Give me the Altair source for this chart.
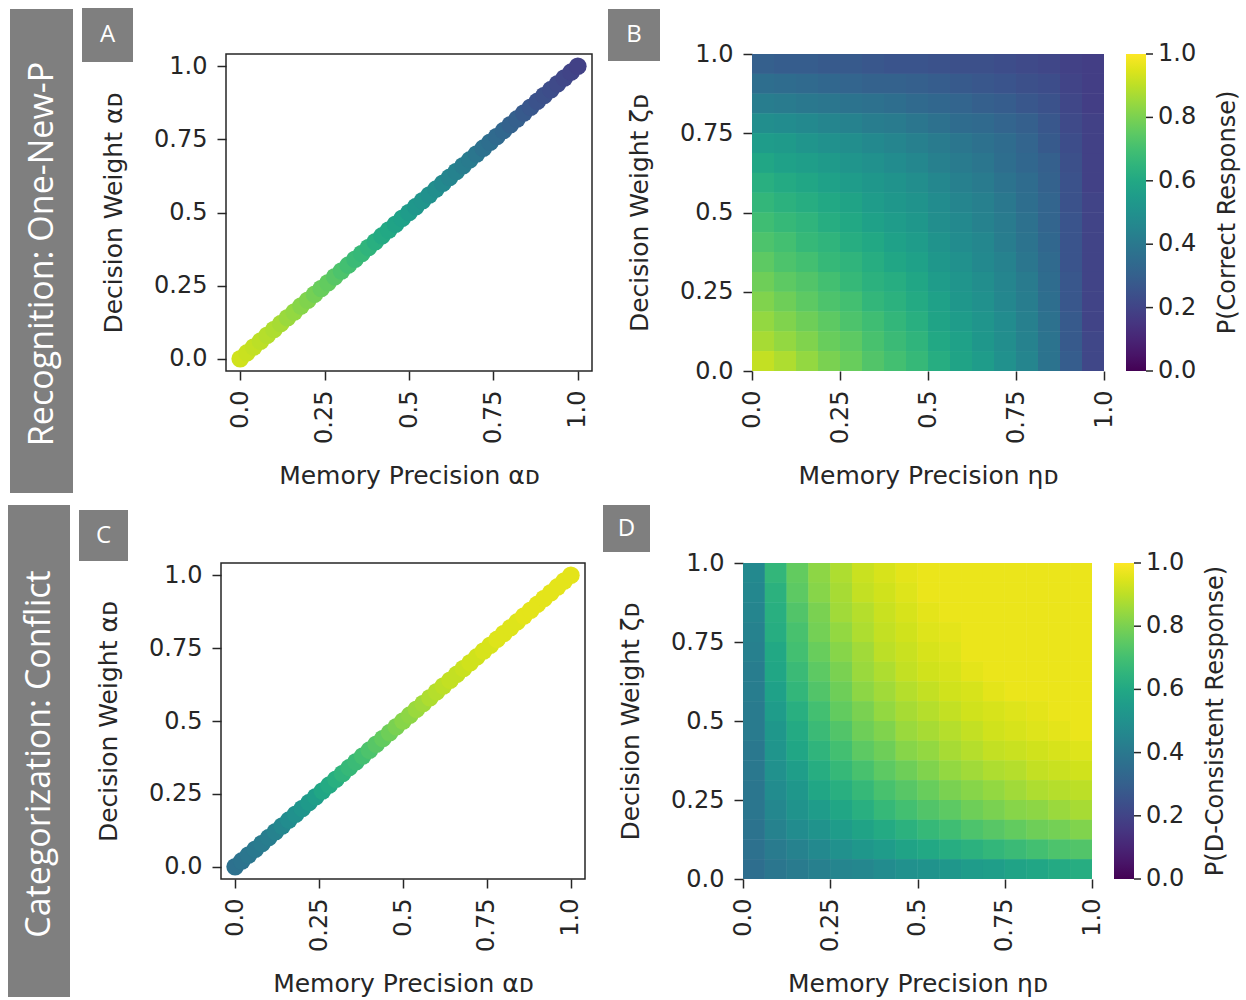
import altair as alt
import pandas as pd

# ------------------------------------------------------------------ data
line_x = [0.00, 0.02, 0.04, 0.06, 0.08, 0.10, 0.12, 0.14, 0.16, 0.18,
          0.20, 0.22, 0.24, 0.26, 0.28, 0.30, 0.32, 0.34, 0.36, 0.38,
          0.40, 0.42, 0.44, 0.46, 0.48, 0.50, 0.52, 0.54, 0.56, 0.58,
          0.60, 0.62, 0.64, 0.66, 0.68, 0.70, 0.72, 0.74, 0.76, 0.78,
          0.80, 0.82, 0.84, 0.86, 0.88, 0.90, 0.92, 0.94, 0.96, 0.98, 1.00]

# colour of the diagonal in panel A (P correct) and panel C (P D-consistent)
recog_line_p = [0.93, 0.92, 0.91, 0.90, 0.89, 0.88, 0.87, 0.85, 0.84, 0.82,
                0.81, 0.79, 0.77, 0.76, 0.74, 0.72, 0.70, 0.68, 0.67, 0.65,
                0.63, 0.61, 0.60, 0.58, 0.57, 0.55, 0.53, 0.52, 0.50, 0.49,
                0.47, 0.45, 0.44, 0.42, 0.41, 0.39, 0.37, 0.36, 0.34, 0.33,
                0.31, 0.30, 0.28, 0.27, 0.25, 0.24, 0.23, 0.22, 0.21, 0.20, 0.19]
categ_line_p = [0.37, 0.38, 0.39, 0.40, 0.41, 0.42, 0.44, 0.46, 0.48, 0.50,
                0.52, 0.54, 0.56, 0.59, 0.61, 0.63, 0.65, 0.67, 0.68, 0.70,
                0.72, 0.74, 0.76, 0.78, 0.80, 0.82, 0.83, 0.85, 0.86, 0.88,
                0.89, 0.90, 0.91, 0.91, 0.92, 0.93, 0.93, 0.94, 0.94, 0.95,
                0.95, 0.95, 0.95, 0.96, 0.96, 0.96, 0.96, 0.96, 0.96, 0.96, 0.96]

grid_edges = [0.0, 0.0625, 0.125, 0.1875, 0.25, 0.3125, 0.375, 0.4375, 0.5,
              0.5625, 0.625, 0.6875, 0.75, 0.8125, 0.875, 0.9375, 1.0]

# panel B, rows from zeta = 1 (top) down to zeta = 0 (bottom), columns eta 0 -> 1
recog_grid = [
    [0.30, 0.29, 0.29, 0.28, 0.28, 0.27, 0.26, 0.26, 0.25, 0.24, 0.24, 0.23, 0.22, 0.21, 0.19, 0.18],
    [0.36, 0.35, 0.34, 0.33, 0.32, 0.31, 0.31, 0.30, 0.29, 0.28, 0.27, 0.26, 0.24, 0.23, 0.20, 0.18],
    [0.42, 0.41, 0.40, 0.39, 0.38, 0.37, 0.36, 0.34, 0.33, 0.32, 0.30, 0.29, 0.27, 0.25, 0.21, 0.18],
    [0.49, 0.48, 0.47, 0.45, 0.44, 0.42, 0.41, 0.39, 0.37, 0.35, 0.34, 0.32, 0.30, 0.27, 0.22, 0.19],
    [0.55, 0.54, 0.52, 0.50, 0.49, 0.47, 0.45, 0.43, 0.41, 0.39, 0.37, 0.35, 0.32, 0.28, 0.23, 0.19],
    [0.59, 0.57, 0.56, 0.54, 0.52, 0.50, 0.48, 0.46, 0.43, 0.41, 0.39, 0.36, 0.33, 0.30, 0.24, 0.19],
    [0.63, 0.61, 0.59, 0.57, 0.55, 0.53, 0.51, 0.49, 0.46, 0.43, 0.41, 0.38, 0.35, 0.31, 0.25, 0.19],
    [0.66, 0.64, 0.62, 0.60, 0.58, 0.55, 0.53, 0.51, 0.48, 0.45, 0.43, 0.40, 0.36, 0.32, 0.25, 0.20],
    [0.69, 0.67, 0.65, 0.62, 0.60, 0.57, 0.55, 0.53, 0.49, 0.47, 0.44, 0.41, 0.37, 0.32, 0.26, 0.20],
    [0.72, 0.70, 0.67, 0.65, 0.62, 0.60, 0.57, 0.55, 0.51, 0.48, 0.46, 0.42, 0.38, 0.33, 0.26, 0.20],
    [0.75, 0.72, 0.70, 0.67, 0.65, 0.62, 0.59, 0.57, 0.53, 0.50, 0.47, 0.44, 0.39, 0.34, 0.26, 0.20],
    [0.78, 0.75, 0.73, 0.70, 0.67, 0.64, 0.62, 0.59, 0.55, 0.52, 0.49, 0.45, 0.41, 0.35, 0.27, 0.20],
    [0.81, 0.78, 0.75, 0.72, 0.70, 0.66, 0.64, 0.61, 0.57, 0.53, 0.50, 0.46, 0.42, 0.36, 0.27, 0.20],
    [0.84, 0.81, 0.78, 0.75, 0.72, 0.69, 0.66, 0.63, 0.58, 0.55, 0.52, 0.48, 0.43, 0.37, 0.28, 0.20],
    [0.87, 0.84, 0.81, 0.77, 0.75, 0.71, 0.68, 0.65, 0.60, 0.57, 0.53, 0.49, 0.44, 0.38, 0.28, 0.21],
    [0.91, 0.88, 0.84, 0.80, 0.77, 0.73, 0.70, 0.67, 0.62, 0.58, 0.55, 0.50, 0.45, 0.38, 0.29, 0.21],
]

# panel D, same layout
categ_grid = [
    [0.47, 0.66, 0.76, 0.83, 0.88, 0.92, 0.94, 0.96, 0.97, 0.97, 0.97, 0.97, 0.97, 0.97, 0.97, 0.97],
    [0.46, 0.64, 0.75, 0.82, 0.87, 0.91, 0.93, 0.95, 0.97, 0.97, 0.97, 0.97, 0.97, 0.97, 0.97, 0.97],
    [0.45, 0.63, 0.73, 0.80, 0.86, 0.89, 0.92, 0.94, 0.96, 0.97, 0.97, 0.97, 0.97, 0.97, 0.97, 0.97],
    [0.44, 0.62, 0.71, 0.79, 0.84, 0.88, 0.91, 0.93, 0.95, 0.96, 0.97, 0.97, 0.97, 0.97, 0.97, 0.97],
    [0.43, 0.60, 0.70, 0.77, 0.82, 0.86, 0.90, 0.92, 0.94, 0.95, 0.97, 0.97, 0.97, 0.97, 0.97, 0.97],
    [0.42, 0.59, 0.68, 0.75, 0.80, 0.85, 0.88, 0.91, 0.93, 0.94, 0.96, 0.97, 0.97, 0.97, 0.97, 0.97],
    [0.42, 0.57, 0.66, 0.73, 0.78, 0.83, 0.86, 0.89, 0.91, 0.93, 0.94, 0.96, 0.97, 0.97, 0.97, 0.97],
    [0.41, 0.55, 0.63, 0.70, 0.76, 0.80, 0.84, 0.87, 0.89, 0.91, 0.93, 0.94, 0.95, 0.96, 0.97, 0.97],
    [0.41, 0.53, 0.61, 0.68, 0.73, 0.78, 0.81, 0.85, 0.87, 0.89, 0.91, 0.93, 0.94, 0.95, 0.96, 0.97],
    [0.40, 0.52, 0.59, 0.65, 0.70, 0.75, 0.78, 0.82, 0.84, 0.87, 0.89, 0.91, 0.92, 0.93, 0.94, 0.95],
    [0.40, 0.50, 0.56, 0.62, 0.67, 0.71, 0.75, 0.78, 0.81, 0.84, 0.86, 0.88, 0.89, 0.91, 0.92, 0.93],
    [0.39, 0.48, 0.53, 0.59, 0.63, 0.67, 0.71, 0.74, 0.77, 0.80, 0.82, 0.84, 0.86, 0.88, 0.89, 0.90],
    [0.39, 0.46, 0.51, 0.55, 0.59, 0.63, 0.67, 0.70, 0.73, 0.75, 0.78, 0.80, 0.82, 0.83, 0.85, 0.87],
    [0.38, 0.44, 0.48, 0.51, 0.55, 0.58, 0.61, 0.64, 0.67, 0.69, 0.72, 0.74, 0.76, 0.78, 0.79, 0.81],
    [0.37, 0.41, 0.44, 0.47, 0.50, 0.53, 0.55, 0.58, 0.60, 0.62, 0.64, 0.66, 0.68, 0.70, 0.72, 0.73],
    [0.36, 0.39, 0.41, 0.43, 0.45, 0.46, 0.48, 0.50, 0.51, 0.53, 0.55, 0.56, 0.58, 0.59, 0.61, 0.62],
]

axis_ticks = [0.0, 0.25, 0.5, 0.75, 1.0]
cbar_ticks = [0.0, 0.2, 0.4, 0.6, 0.8, 1.0]
row_labels = ["Recognition: One-New-P", "Categorization: Conflict"]
panel_letters = ["A", "B", "C", "D"]
cbar_titles = ["P(Correct Response)", "P(D-Consistent Response)"]
x_titles = ["Memory Precision αᴅ", "Memory Precision ηᴅ"]
y_titles = ["Decision Weight αᴅ", "Decision Weight ζᴅ"]

# ------------------------------------------------------------------ style
FONT = "DejaVu Sans"
LFONT = "Open Sans"
GREY = "#7f7f7f"
INK = "#262626"
TICK_FS = 24
TITLE_FS = 25
LEG_OFFSET = 22
LEG_THICK = 20

LABEL_EXPR = "datum.value == 0 ? '0.0' : (datum.value == 1 ? '1.0' : '' + datum.value)"


def make_axis(title, kind):
    common = dict(values=axis_ticks, labelExpr=LABEL_EXPR, grid=False, domain=False,
                  ticks=True, tickSize=9, tickWidth=1.5, tickColor=INK,
                  labelFont=FONT, labelFontSize=TICK_FS, labelColor=INK, labelPadding=10,
                  title=title, titleFont=FONT, titleFontSize=TITLE_FS,
                  titleFontWeight="normal", titleColor=INK)
    if kind == "x":
        return alt.Axis(labelAngle=270, titlePadding=20, **common)
    return alt.Axis(titlePadding=27, **common)


def letter_box(letter, x0, y0, w, h):
    df = pd.DataFrame({"letter": [letter]})
    box = alt.Chart(df).mark_rect(color=GREY).encode(
        x=alt.value(x0), x2=alt.value(x0 + w), y=alt.value(y0), y2=alt.value(y0 + h))
    txt = alt.Chart(df).mark_text(font=LFONT, fontSize=24, color="white",
                                  align="center", baseline="middle").encode(
        x=alt.value(x0 + w / 2), y=alt.value(y0 + h / 2), text="letter:N")
    return [box, txt]


def side_bar(label, width, height, x0, y0, w, h):
    df = pd.DataFrame({"label": [label]})
    bar = alt.Chart(df).mark_rect(color=GREY).encode(
        x=alt.value(x0), x2=alt.value(x0 + w), y=alt.value(y0), y2=alt.value(y0 + h))
    txt = alt.Chart(df).mark_text(font=LFONT, fontSize=34, color="white", angle=270,
                                  align="center", baseline="middle").encode(
        x=alt.value(x0 + w / 2 + 1), y=alt.value(y0 + h / 2 + 3), text="label:N")
    return alt.layer(bar, txt).properties(width=width, height=height)


def line_panel(values, letter, box, width, height):
    df = pd.DataFrame({"m": line_x, "w": line_x, "p": values})
    dom = alt.Scale(domain=[-0.042, 1.042], nice=False, zero=False)
    pts = alt.Chart(df).mark_circle(size=310, opacity=1).encode(
        x=alt.X("m:Q", scale=dom, axis=make_axis(x_titles[0], "x")),
        y=alt.Y("w:Q", scale=dom, axis=make_axis(y_titles[0], "y")),
        color=alt.Color("p:Q", scale=alt.Scale(scheme="viridis", domain=[0, 1]), legend=None),
    )
    return alt.layer(pts, *letter_box(letter, *box)).properties(
        width=width, height=height,
        view=alt.ViewBackground(stroke=INK, strokeWidth=1.5))


def heat_panel(grid, cbar_title, letter, box, width, height):
    n = len(grid)
    recs = []
    for r, row in enumerate(grid):
        j = n - 1 - r
        for i, v in enumerate(row):
            recs.append({"x": grid_edges[i], "x2": grid_edges[i + 1],
                         "y": grid_edges[j], "y2": grid_edges[j + 1], "p": v})
    df = pd.DataFrame(recs)
    unit = alt.Scale(domain=[0, 1], nice=False, zero=False)
    cscale = alt.Scale(scheme="viridis", domain=[0, 1])
    heat = alt.Chart(df).mark_rect().encode(
        x=alt.X("x:Q", scale=unit, axis=make_axis(x_titles[1], "x")),
        x2="x2:Q",
        y=alt.Y("y:Q", scale=unit, axis=make_axis(y_titles[1], "y")),
        y2="y2:Q",
        color=alt.Color("p:Q", scale=cscale, legend=alt.Legend(
            type="gradient", title=None, orient="right", offset=LEG_OFFSET,
            direction="vertical",
            gradientLength=height, gradientThickness=LEG_THICK, gradientStrokeWidth=0,
            values=cbar_ticks, format=".1f", labelFontSize=8, labelOpacity=0,
            padding=0)),
    )
    tick_df = pd.DataFrame({"t": cbar_ticks})
    bar_right = width + LEG_OFFSET + LEG_THICK
    cticks = alt.Chart(tick_df).mark_rule(color=INK, strokeWidth=1.5).encode(
        y=alt.Y("t:Q"), x=alt.value(bar_right), x2=alt.value(bar_right + 7))
    clabels = alt.Chart(tick_df).mark_text(
        font=FONT, fontSize=TICK_FS, color=INK, align="left", baseline="middle").encode(
        y=alt.Y("t:Q"), x=alt.value(bar_right + 12), text=alt.Text("t:Q", format=".1f"))
    ttl = alt.Chart(pd.DataFrame({"t": [cbar_title]})).mark_text(
        font=FONT, fontSize=TICK_FS, color=INK, angle=270,
        align="center", baseline="middle").encode(
        x=alt.value(width + 124), y=alt.value(height / 2), text="t:N")
    # the cell layer is drawn twice so the anti-aliased seams between cells close up
    return alt.layer(heat, heat, cticks, clabels, ttl, *letter_box(letter, *box)).properties(
        width=width, height=height)


# ------------------------------------------------------------------ layout
s1 = side_bar(row_labels[0], 56, 317, 0, -45, 63, 484)
pa = line_panel(recog_line_p, panel_letters[0], (-144, -46, 51, 54), 366, 317)
pb = heat_panel(recog_grid, cbar_titles[0], panel_letters[1], (-144, -45, 52, 52), 352, 317)

s2 = side_bar(row_labels[1], 53, 316, -2, -58, 62, 492)
pc = line_panel(categ_line_p, panel_letters[2], (-142, -53, 49, 51), 364, 316)
pd_ = heat_panel(categ_grid, cbar_titles[1], panel_letters[3], (-140, -58, 47, 47), 349, 316)

row1 = alt.hconcat(s1, pa, pb, spacing=160, bounds="flush").resolve_scale(
    color="independent").resolve_legend(color="independent")
row2 = alt.hconcat(s2, pc, pd_, spacing=158, bounds="flush").resolve_scale(
    color="independent").resolve_legend(color="independent")

chart = alt.vconcat(row1, row2, spacing=509, bounds="flush").resolve_scale(
    color="independent").resolve_legend(color="independent").properties(
    padding={"left": 8, "top": 7, "right": 4, "bottom": 2},
    background="white",
).configure_view(stroke=None)

chart.save("out.html", embed_options={"renderer": "svg", "actions": False})
